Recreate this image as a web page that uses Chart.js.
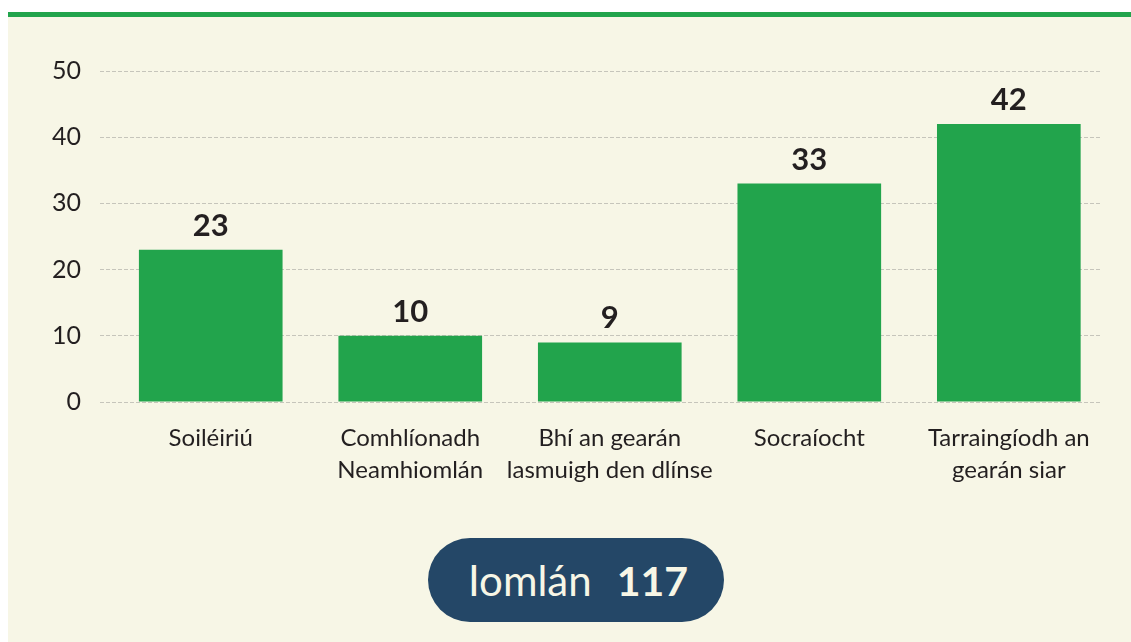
<!DOCTYPE html>
<html>
<head>
<meta charset="utf-8">
<script src="https://cdn.jsdelivr.net/npm/chart.js@4"></script>
<style>
  html, body { margin:0; padding:0; background:#fff; }
  body { width:1131px; height:642px; position:relative; overflow:hidden; font-family:Lato, sans-serif; }
  #panel { position:absolute; left:8px; top:12px; right:0; bottom:0; background:#f7f6e6; border-top:5px solid #22a44c; }
  #wrap { position:absolute; left:0; top:0; width:1131px; height:500px; }
  #total { position:absolute; left:428px; top:538px; width:292px; padding-left:4px; height:84px; border-radius:42px;
           background:#244767; color:#f7f6e6; font-size:42px; line-height:84px; text-align:center; }
  #total b { margin-left:25px; font-size:41px; }
</style>
</head>
<body>
<div id="panel"></div>
<div id="wrap"><canvas id="chart"></canvas></div>
<div id="total">Iomlán<b>117</b></div>
<script>
// Categories and counts
const categories = [
  ["Soiléiriú"],
  ["Comhlíonadh", "Neamhiomlán"],
  ["Bhí an gearán", "lasmuigh den dlínse"],
  ["Socraíocht"],
  ["Tarraingíodh an", "gearán siar"]
];
const counts = [23, 10, 9, 33, 42];
const yTicks = [0, 10, 20, 30, 40, 50];

// value labels above bars
const valueLabels = {
  id: "valueLabels",
  afterDatasetsDraw(chart){
    const ctx = chart.ctx;
    const meta = chart.getDatasetMeta(0);
    ctx.save();
    ctx.font = "bold 31px Lato";
    ctx.fillStyle = "#231f20";
    ctx.textAlign = "center";
    ctx.textBaseline = "alphabetic";
    meta.data.forEach((bar, i)=>{
      ctx.fillText(counts[i], bar.x, bar.y - 14);
    });
    ctx.restore();
  }
};

const ctx = document.getElementById("chart").getContext("2d");
new Chart(ctx, {
  type: "bar",
  data: {
    datasets: [{
      data: counts.map((v, i) => ({ x:i, y:v })),
      backgroundColor: "#22a44c",
      categoryPercentage: 0.72,
      barPercentage: 1
    }]
  },
  options: {
    responsive: true,
    maintainAspectRatio: false,
    animation: false,
    layout: { padding: { top: 71, right: 31, left: 0, bottom: 0 } },
    plugins: { legend: { display:false }, tooltip: { enabled:false } },
    scales: {
      x: {
        type: "linear",
        offset: false,
        min: -0.555, max: 4.457,
        afterBuildTicks(axis){ axis.ticks = categories.map((_, i) => ({ value:i })); },
        grid: { display:false, drawTicks:false },
        border: { display:false },
        ticks: {
          color:"#231f20", font:{ family:"Lato", size:24, lineHeight:1.3 }, padding:21,
          maxRotation:0, autoSkip:false,
          callback: v => categories[v]
        },
        afterFit(axis){ axis.height = 98; }
      },
      y: {
        min: 0, max: 50,
        afterBuildTicks(axis){ axis.ticks = yTicks.map(v => ({ value:v })); },
        grid: { color:"#c6c5bb", lineWidth:1, drawTicks:false },
        border: { display:false, dash:[4,2] },
        ticks: { color:"#231f20", font:{ family:"Lato", size:25 }, padding:19 },
        afterFit(axis){ axis.width = 100; }
      }
    }
  },
  plugins: [valueLabels]
});
</script>
</body>
</html>
